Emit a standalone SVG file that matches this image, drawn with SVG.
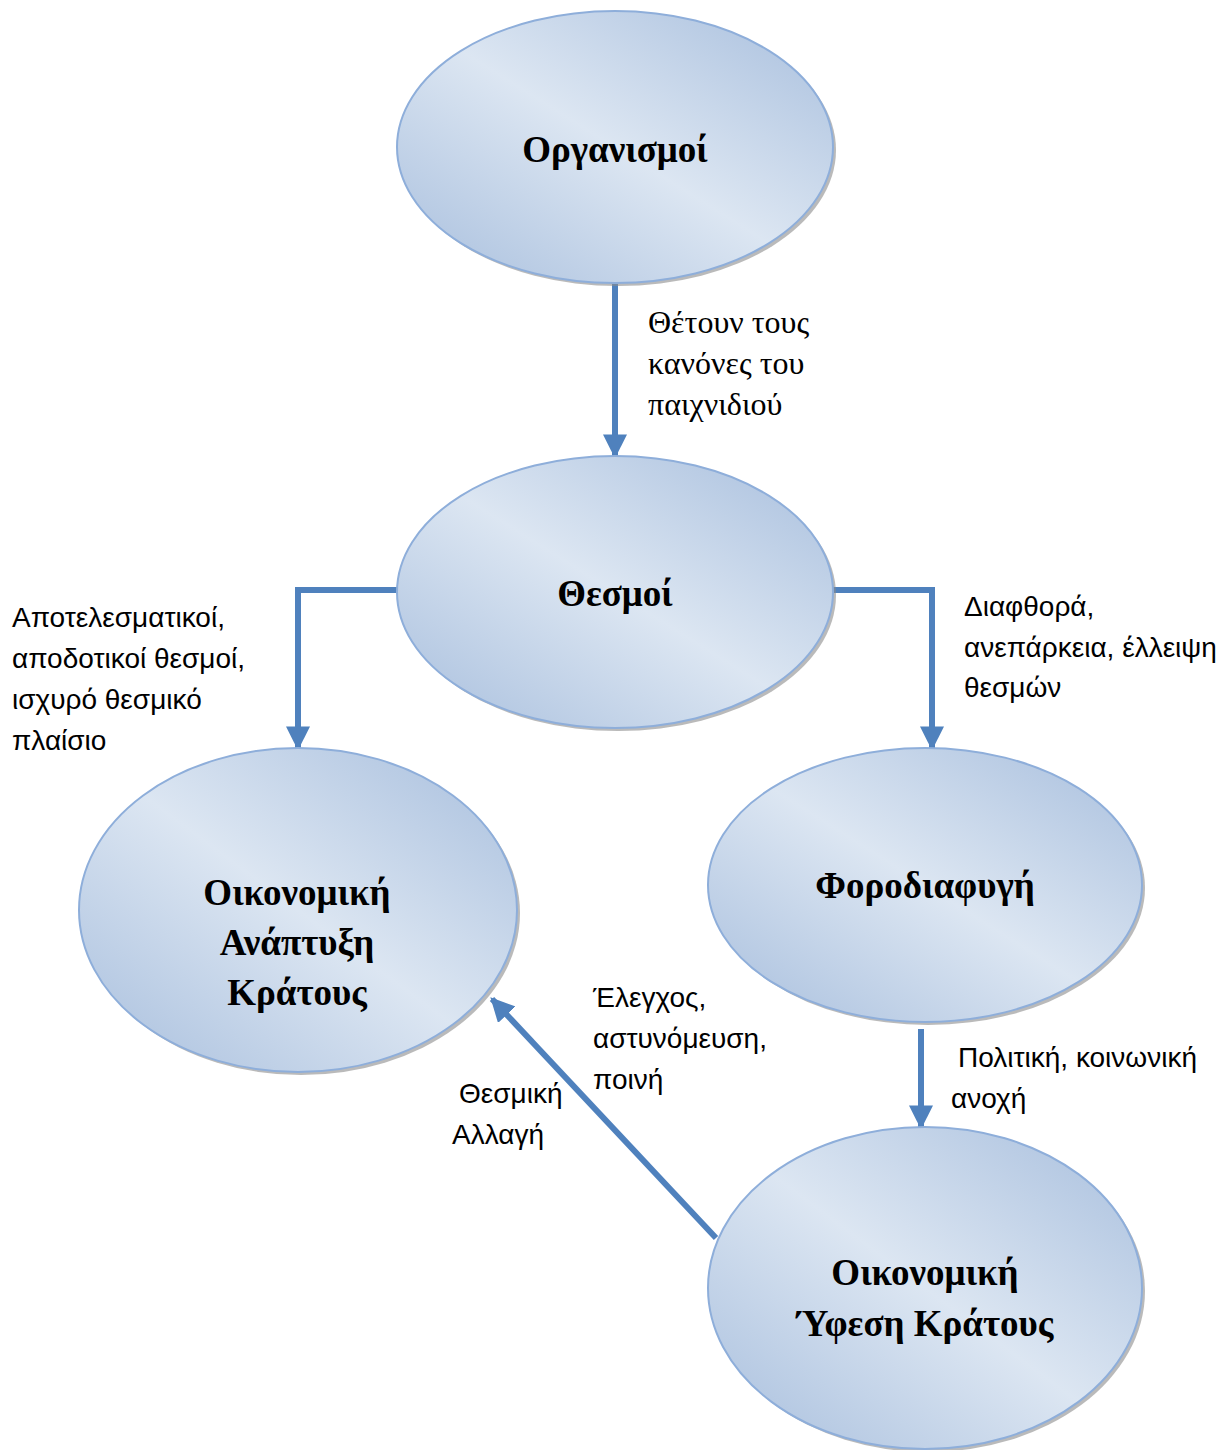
<svg xmlns="http://www.w3.org/2000/svg" width="1227" height="1450" viewBox="0 0 1227 1450">
<defs>
<linearGradient id="g" x1="0" y1="1" x2="1" y2="0">
<stop offset="0" stop-color="#A7BEDD"/>
<stop offset="0.5" stop-color="#DCE6F2"/>
<stop offset="1" stop-color="#A7BEDD"/>
</linearGradient>
<marker id="ah" viewBox="0 0 10 10" refX="9" refY="5" markerWidth="4" markerHeight="4" orient="auto" markerUnits="strokeWidth">
<path d="M0,0 L10,5 L0,10 z" fill="#4F81BD"/>
</marker>
</defs>
<style>
.sh{fill:#8C8C8C;opacity:0.6}
.el{fill:url(#g);stroke:#8EAEDA;stroke-width:2}
.nt{font-family:"Liberation Serif","Times New Roman",serif;font-weight:bold;font-size:37px;fill:#000;text-anchor:middle}
.lb{font-family:"Liberation Sans",Arial,sans-serif;font-size:28px;fill:#000}
.ls{font-family:"Liberation Serif","Times New Roman",serif;font-size:32px;fill:#000}
.c{fill:none;stroke:#4F81BD;stroke-width:6;marker-end:url(#ah)}
</style>
<rect width="1227" height="1450" fill="#fff"/>
<g id="connectors">
<path class="c" d="M615,284 V456"/>
<path class="c" d="M397,590 H298 V748"/>
<path class="c" d="M833,590 H932 V748"/>
<path class="c" d="M921,1029 V1127"/>
<path class="c" d="M716,1238 L492,999"/>
</g>
<g id="n1">
<ellipse class="sh" cx="618" cy="150" rx="218" ry="136"/>
<ellipse class="el" cx="615" cy="147" rx="218" ry="136"/>
<text class="nt" x="615" y="162">Οργανισμοί</text>
</g>
<g id="n2">
<ellipse class="sh" cx="618" cy="595" rx="218" ry="136"/>
<ellipse class="el" cx="615" cy="592" rx="218" ry="136"/>
<text class="nt" x="615" y="606">Θεσμοί</text>
</g>
<g id="n3">
<ellipse class="sh" cx="301" cy="913" rx="219" ry="162"/>
<ellipse class="el" cx="298" cy="910" rx="219" ry="162"/>
<text class="nt" x="297" y="905">Οικονομική</text>
<text class="nt" x="297" y="955">Ανάπτυξη</text>
<text class="nt" x="297" y="1005">Κράτους</text>
</g>
<g id="n4">
<ellipse class="sh" cx="928" cy="888" rx="217" ry="137"/>
<ellipse class="el" cx="925" cy="885" rx="217" ry="137"/>
<text class="nt" x="925" y="898">Φοροδιαφυγή</text>
</g>
<g id="n5">
<ellipse class="sh" cx="928" cy="1291" rx="217" ry="161"/>
<ellipse class="el" cx="925" cy="1288" rx="217" ry="161"/>
<text class="nt" x="925" y="1285">Οικονομική</text>
<text class="nt" x="925" y="1336">Ύφεση Κράτους</text>
</g>
<g id="labels">
<text class="ls" x="648" y="333">Θέτουν τους</text>
<text class="ls" x="648" y="374">κανόνες του</text>
<text class="ls" x="648" y="415">παιχνιδιού</text>
<text class="lb" x="12" y="627">Αποτελεσματικοί,</text>
<text class="lb" x="12" y="668">αποδοτικοί θεσμοί,</text>
<text class="lb" x="12" y="709">ισχυρό θεσμικό</text>
<text class="lb" x="12" y="750">πλαίσιο</text>
<text class="lb" x="964" y="616">Διαφθορά,</text>
<text class="lb" x="964" y="657">ανεπάρκεια, έλλειψη</text>
<text class="lb" x="964" y="697">θεσμών</text>
<text class="lb" x="958" y="1067">Πολιτική, κοινωνική</text>
<text class="lb" x="951" y="1108">ανοχή</text>
<text class="lb" x="593" y="1007">Έλεγχος,</text>
<text class="lb" x="593" y="1048">αστυνόμευση,</text>
<text class="lb" x="593" y="1089">ποινή</text>
<text class="lb" x="459" y="1103">Θεσμική</text>
<text class="lb" x="452" y="1144">Αλλαγή</text>
</g>
</svg>
